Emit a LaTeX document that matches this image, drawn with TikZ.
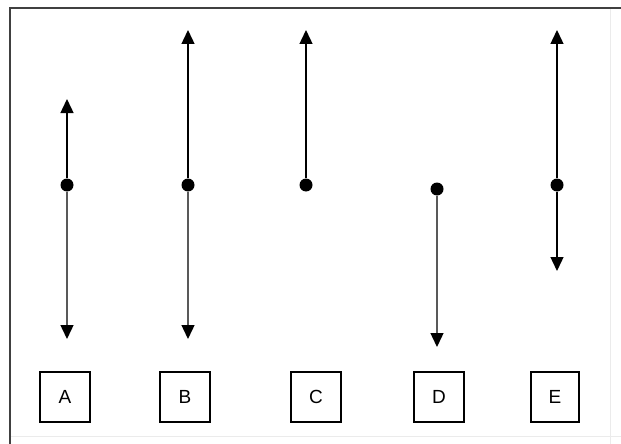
\documentclass[tikz,border=0pt]{standalone}
\usepackage{fontspec}
\setmainfont{Liberation Sans}
\usetikzlibrary{arrows.meta}
\begin{document}
\begin{tikzpicture}[x=1pt, y=-1pt]
	\tikzset{point/.style={circle, fill=black, inner sep=0pt, minimum size=13pt},
		fleche/.style={line width=1.4pt, -{Triangle[width=13pt, length=14pt, color=black]}},
		boite/.style={draw=black, line width=1.3pt, minimum width=50pt, minimum height=50pt, inner sep=0pt, font=\fontsize{19}{21}\selectfont}};

	\useasboundingbox (0,0) rectangle (621,444);

	% cadre
	\draw[black!8, line width=1pt] (610,8) -- (610,444);
	\draw[black!8, line width=1pt] (10,436) -- (621,436);
	\draw[black!75, line width=2pt] (10,444) -- (10,8) -- (621,8);

	\node[point] (pa) at ( 67, 185) {};
	\node[point] (pb) at (188, 185) {};
	\node[point] (pc) at (306, 185) {};
	\node[point] (pd) at (437, 189) {};
	\node[point] (pe) at (557, 185) {};

	\coordinate (ha) at ( 67,  99);
	\coordinate (ba) at ( 67, 339);
	\coordinate (hb) at (188,  30);
	\coordinate (bb) at (188, 339);
	\coordinate (hc) at (306,  30);
	\coordinate (bd) at (437, 347);
	\coordinate (he) at (557,  30);
	\coordinate (be) at (557, 271);

	\draw[fleche] (pa) -- (ha);
	\draw[fleche, black!65] (pa) -- (ba);
	\draw[fleche] (pb) -- (hb);
	\draw[fleche, black!65] (pb) -- (bb);
	\draw[fleche] (pc) -- (hc);
	\draw[fleche, black!65] (pd) -- (bd);
	\draw[fleche] (pe) -- (he);
	\draw[fleche] (pe) -- (be);

	\node[boite] (A) at ( 65, 397) {A};
	\node[boite] (B) at (185, 397) {B};
	\node[boite] (C) at (316, 397) {C};
	\node[boite] (D) at (439, 397) {D};
	\node[boite, minimum width=48pt] (E) at (555, 397) {E};

\end{tikzpicture}
\end{document}
